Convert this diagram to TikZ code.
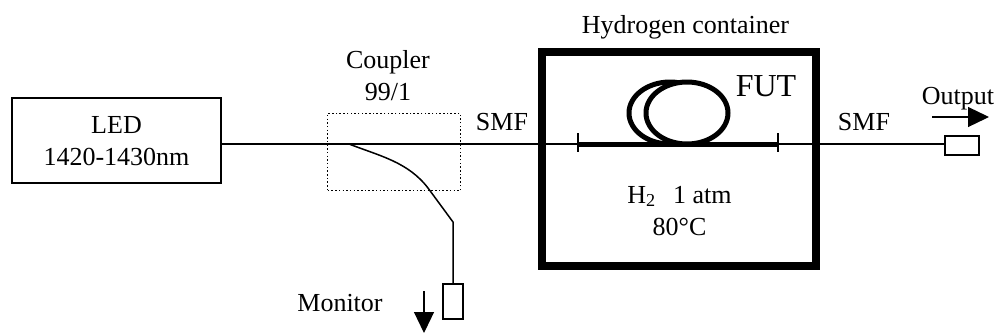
\documentclass[tikz,border=0pt]{standalone}
\usepackage{fontspec}
\setmainfont{Liberation Serif}
\usetikzlibrary{arrows.meta}
\begin{document}
\begin{tikzpicture}[x=1pt,y=-1pt,
  lbl/.style={inner sep=0pt,anchor=base,font=\fontsize{26}{32}\selectfont},
  fiber/.style={line width=1.5pt,draw=black},
  connbox/.style={draw=black,line width=1.3pt,fill=white,inner sep=0pt},
  dirarrow/.style={line width=1.2pt,-{Triangle[length=21pt,width=20pt]}},
  wall/.style={draw=black,line width=7.5pt,miter limit=10},
  coil/.style={draw=black,line width=5pt,fill=white}]
\useasboundingbox (0,0) rectangle (998,333);
\node[draw=black,line width=1.3pt,minimum width=209pt,minimum height=85pt,inner sep=0pt] (led) at (116.5,140.5) {};
\node[draw=black,dash pattern=on 1.5pt off 2.2pt,line width=1.3pt,minimum width=132.5pt,minimum height=77.5pt,inner sep=0pt] (coupler) at (394,152) {};
\node[inner sep=0pt,minimum width=274pt,minimum height=214pt] (tank) at (679,159) {};
\node[connbox,minimum width=34pt,minimum height=19pt] (outp) at (962,145.5) {};
\node[connbox,minimum width=20pt,minimum height=35pt] (mon) at (453,301.5) {};
\coordinate (split) at (349,144);
\coordinate (bend) at (453,222);
\coordinate (futl) at (578,144);
\coordinate (futr) at (778,144);
\draw[fiber] (split -| led.east) -- (outp.west |- split);
\draw[fiber] (split) .. controls (380,156) and (408,162) .. (428,188) -- (bend) -- (mon.north);
\draw[coil] (670,113) ellipse [x radius=41,y radius=31];
\draw[coil] (687,113) ellipse [x radius=41,y radius=31];
\draw[line width=5pt] (futl) -- (futr);
\draw[line width=1.5pt] ([yshift=-7.5pt]futl) -- ([yshift=11.5pt]futl);
\draw[line width=1.5pt] ([yshift=-7.5pt]futr) -- ([yshift=11.5pt]futr);
\draw[wall] (tank.south west) rectangle (tank.north east);
\node[lbl] (l1) at (116.5,133) {LED};
\node[lbl] (l2) at (116.5,165) {1420-1430nm};
\node[lbl] (hc) at (685.5,33) {Hydrogen container};
\node[lbl,font=\fontsize{32}{36}\selectfont] (fut) at (766,96) {FUT};
\node[lbl] (h2) at (679.5,203) {H$_{\mathrm{2}}$\ \ \,1 atm};
\node[lbl] (temp) at (679.5,235) {80°C};
\node[lbl] (coup) at (388,68) {Coupler};
\node[lbl] (ratio) at (388,100) {99/1};
\node[lbl] (s1) at (502,130) {SMF};
\node[lbl] (s2) at (864,130) {SMF};
\node[lbl] (out) at (958,104) {Output};
\node[lbl] (moni) at (340,311) {Monitor};
\coordinate (a1) at (932,117);
\coordinate (a2) at (989,117);
\coordinate (a3) at (424,291);
\coordinate (a4) at (424,333);
\draw[dirarrow] (a1) -- (a2);
\draw[dirarrow] (a3) -- (a4);
\end{tikzpicture}
\end{document}
